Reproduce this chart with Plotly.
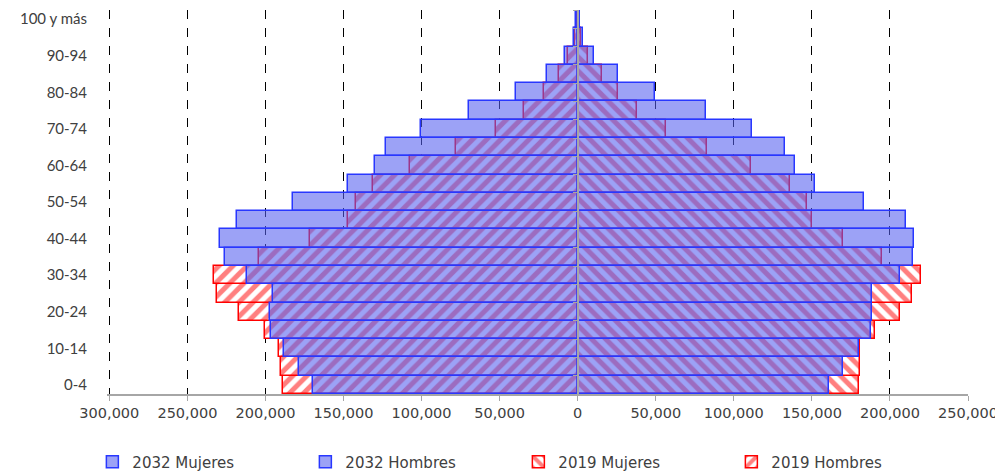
import plotly.graph_objects as go

age_groups = ["0-4", "5-9", "10-14", "15-19", "20-24", "25-29", "30-34", "35-39",
              "40-44", "45-49", "50-54", "55-59", "60-64", "65-69", "70-74", "75-79",
              "80-84", "85-89", "90-94", "95-99", "100 y más"]

hombres_2032 = [169800, 178700, 187900, 196400, 197300, 195400, 211800, 225700,
                228900, 218200, 182600, 146900, 130100, 122600, 100600, 69900,
                39600, 19700, 8450, 2400, 1150]
mujeres_2032 = [161200, 169800, 180000, 187700, 188700, 188700, 206400, 214600,
                215600, 210300, 183200, 151800, 139200, 132600, 111700, 82300,
                49800, 25700, 10750, 3500, 1600]
hombres_2019 = [188700, 189800, 191100, 200500, 217200, 231000, 233200, 203900,
                171300, 147100, 142000, 131100, 107200, 77800, 52200, 34700,
                21900, 11700, 5900, 1500, 400]
mujeres_2019 = [180000, 181000, 181000, 190600, 206400, 214300, 219900, 195100,
                169800, 149900, 147100, 136000, 111100, 82700, 56500, 37900,
                25700, 15500, 6900, 2000, 600]

x_ticks = list(range(-300000, 250001, 50000))
x_tick_text = [f"{abs(v):,}" for v in x_ticks]
X_MIN, X_MAX = -301500, 250000

BLUE_FILL = "rgba(85,95,240,0.58)"
BLUE_LINE = "rgb(40,55,255)"
RED = "rgb(255,0,0)"

fig = go.Figure()

# 2019 (drawn first, behind)
fig.add_trace(go.Bar(
    y=age_groups, x=mujeres_2019, orientation="h", name="2019 Mujeres",
    legendrank=3,
    marker=dict(color="white", line=dict(color=RED, width=1.5),
                pattern=dict(shape="\\", fgcolor=RED, bgcolor="white", size=10, solidity=0.5)),
))
fig.add_trace(go.Bar(
    y=age_groups, x=[-v for v in hombres_2019], orientation="h", name="2019 Hombres",
    legendrank=4,
    marker=dict(color="white", line=dict(color=RED, width=1.5),
                pattern=dict(shape="/", fgcolor=RED, bgcolor="white", size=10, solidity=0.5)),
))
# 2032 (on top, semi transparent)
fig.add_trace(go.Bar(
    y=age_groups, x=mujeres_2032, orientation="h", name="2032 Mujeres",
    legendrank=1,
    marker=dict(color=BLUE_FILL, line=dict(color=BLUE_LINE, width=1.5)),
))
fig.add_trace(go.Bar(
    y=age_groups, x=[-v for v in hombres_2032], orientation="h", name="2032 Hombres",
    legendrank=2,
    marker=dict(color=BLUE_FILL, line=dict(color=BLUE_LINE, width=1.5)),
))
# dummy trace to carry the central category axis
fig.add_trace(go.Bar(
    y=age_groups, x=[0] * len(age_groups), orientation="h", yaxis="y2",
    showlegend=False, hoverinfo="skip", marker=dict(opacity=0),
))

fig.update_layout(
    width=1003, height=475,
    margin=dict(l=99, r=43, t=2, b=89, autoexpand=False),
    paper_bgcolor="white", plot_bgcolor="white",
    barmode="overlay", bargap=0,
    font=dict(family="Lato, Open Sans, sans-serif", size=13, color="#404040"),
    xaxis=dict(
        range=[X_MIN, X_MAX], tickvals=x_ticks, ticktext=x_tick_text,
        showgrid=True, gridcolor="black", griddash="dash", gridwidth=1.3,
        zeroline=False, showline=True, linecolor="#a6a6a6", linewidth=1.5,
        ticks="outside", ticklen=5, tickcolor="#a6a6a6",
        tickfont=dict(family="DejaVu Sans, sans-serif", size=14.5, color="#404040"),
        automargin=False,
    ),
    yaxis=dict(
        type="category", categoryorder="array", categoryarray=age_groups,
        range=[-0.5, 20.5],
        tickvals=age_groups[::2], ticktext=age_groups[::2],
        showgrid=False, zeroline=False, showline=False, ticks="",
        ticklabelstandoff=19, automargin=False,
        tickfont=dict(size=15, color="#404040"),
    ),
    yaxis2=dict(
        type="category", categoryorder="array", categoryarray=age_groups,
        range=[-0.5, 20.5], overlaying="y", anchor="free",
        position=-X_MIN / (X_MAX - X_MIN), side="left",
        showline=True, linecolor="#a6a6a6", linewidth=1.5,
        ticks="outside", tickson="boundaries", ticklen=4, tickcolor="#a6a6a6",
        showticklabels=False, showgrid=False, zeroline=False, automargin=False,
    ),
    legend=dict(
        orientation="h", x=-0.017, xanchor="left", y=-0.177, yanchor="middle",
        entrywidth=168, entrywidthmode="pixels",
        font=dict(family="DejaVu Sans, sans-serif", size=15, color="#404040"),
        traceorder="normal",
    ),
    showlegend=True,
)

fig.write_html("out.html")
